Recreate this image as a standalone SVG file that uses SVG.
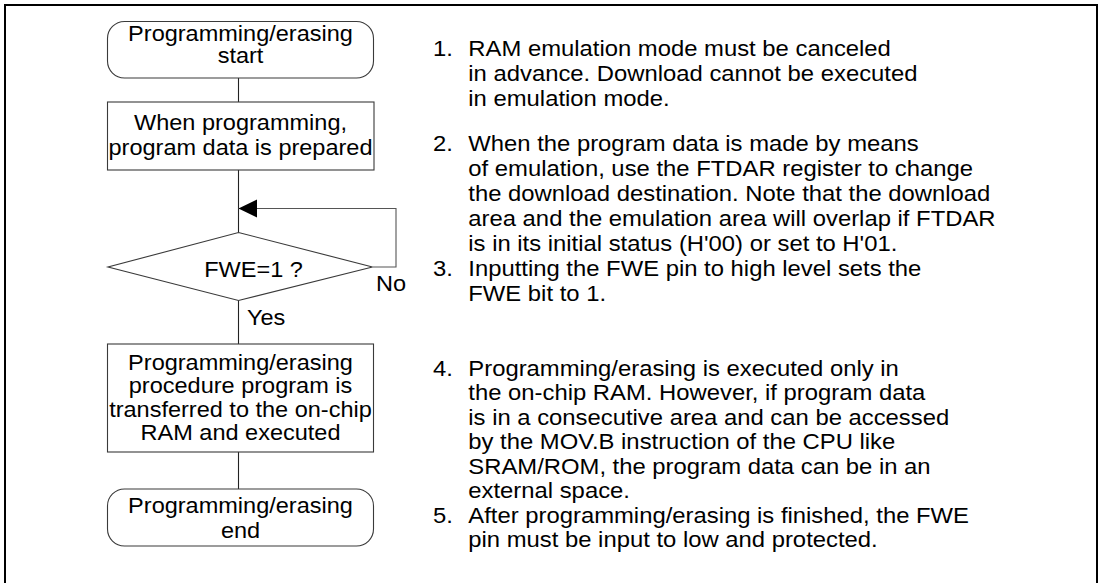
<svg xmlns="http://www.w3.org/2000/svg" width="1102" height="583" viewBox="0 0 1102 583">
<style>
.t{font-family:"Liberation Sans",Arial,sans-serif;font-size:21.2px;fill:#000}
.c{text-anchor:middle}
.shape{fill:#fff;stroke:#3a3a3a;stroke-width:1.1}
.conn{fill:none;stroke:#222;stroke-width:1.1}
.loop{fill:none;stroke:#555;stroke-width:1.1}
</style>
<defs>
<marker id="ah" markerUnits="userSpaceOnUse" markerWidth="20" markerHeight="20" refX="18.5" refY="9" orient="auto">
<path d="M0,0 L18.5,9 L0,18 Z" fill="#000"/>
</marker>
</defs>
<rect width="1102" height="583" fill="#fff"/>
<path d="M5,600 V5 H1097 V600" fill="none" stroke="#000" stroke-width="2"/>

<g id="connectors">
<line class="conn" x1="238.5" y1="78" x2="238.5" y2="102"/>
<line class="conn" x1="238.5" y1="170" x2="238.5" y2="232.5"/>
<line class="conn" x1="238.5" y1="300.5" x2="238.5" y2="344"/>
<line class="conn" x1="238.5" y1="452" x2="238.5" y2="489"/>
<path class="loop" d="M372.5,267 H396 V208.5 H238.5" marker-end="url(#ah)"/>
<text class="t" transform="translate(376 291) scale(1.11 1)">No</text>
<text class="t" transform="translate(247 325) scale(1.11 1)">Yes</text>
</g>

<g id="start">
<rect class="shape" x="107.5" y="21.5" width="266" height="56.5" rx="17" ry="17"/>
<text class="t c" transform="translate(240.5 41) scale(1.11 1)">Programming/erasing</text>
<text class="t c" transform="translate(240.5 63) scale(1.11 1)">start</text>
</g>

<g id="prepare">
<rect class="shape" x="107.5" y="102" width="266.5" height="68"/>
<text class="t c" transform="translate(240.5 130) scale(1.11 1)">When programming,</text>
<text class="t c" transform="translate(240.5 154.5) scale(1.11 1)">program data is prepared</text>
</g>

<g id="decision">
<polygon class="shape" points="238.5,232.5 372.5,267 238.5,300.5 108,267"/>
<text class="t c" transform="translate(253.5 276.5) scale(1.11 1)">FWE=1 ?</text>
</g>

<g id="transfer">
<rect class="shape" x="107.5" y="344" width="266" height="108"/>
<text class="t c" transform="translate(240.5 369.5) scale(1.11 1)">Programming/erasing</text>
<text class="t c" transform="translate(240.5 393) scale(1.11 1)">procedure program is</text>
<text class="t c" transform="translate(240.5 416.5) scale(1.11 1)">transferred to the on-chip</text>
<text class="t c" transform="translate(240.5 440) scale(1.11 1)">RAM and executed</text>
</g>

<g id="end">
<rect class="shape" x="107.5" y="489" width="266" height="57" rx="17" ry="17"/>
<text class="t c" transform="translate(240.5 512.5) scale(1.11 1)">Programming/erasing</text>
<text class="t c" transform="translate(240.5 537.5) scale(1.11 1)">end</text>
</g>

<g id="notes">
<text class="t" transform="translate(433 55.5) scale(1.125 1)">1.</text>
<text class="t" transform="translate(468.3 55.5) scale(1.125 1)">RAM emulation mode must be canceled</text>
<text class="t" transform="translate(468.3 80.5) scale(1.125 1)">in advance. Download cannot be executed</text>
<text class="t" transform="translate(468.3 105.5) scale(1.125 1)">in emulation mode.</text>
<text class="t" transform="translate(433 150.5) scale(1.125 1)">2.</text>
<text class="t" transform="translate(468.3 150.5) scale(1.125 1)">When the program data is made by means</text>
<text class="t" transform="translate(468.3 175.5) scale(1.125 1)">of emulation, use the FTDAR register to change</text>
<text class="t" transform="translate(468.3 200.5) scale(1.125 1)">the download destination. Note that the download</text>
<text class="t" transform="translate(468.3 225.5) scale(1.125 1)">area and the emulation area will overlap if FTDAR</text>
<text class="t" transform="translate(468.3 250.5) scale(1.125 1)">is in its initial status (H'00) or set to H'01.</text>
<text class="t" transform="translate(433 275.5) scale(1.125 1)">3.</text>
<text class="t" transform="translate(468.3 275.5) scale(1.125 1)">Inputting the FWE pin to high level sets the</text>
<text class="t" transform="translate(468.3 300.5) scale(1.125 1)">FWE bit to 1.</text>
<text class="t" transform="translate(433 375.5) scale(1.125 1)">4.</text>
<text class="t" transform="translate(468.3 375.5) scale(1.125 1)">Programming/erasing is executed only in</text>
<text class="t" transform="translate(468.3 400) scale(1.125 1)">the on-chip RAM. However, if program data</text>
<text class="t" transform="translate(468.3 424.5) scale(1.125 1)">is in a consecutive area and can be accessed</text>
<text class="t" transform="translate(468.3 449) scale(1.125 1)">by the MOV.B instruction of the CPU like</text>
<text class="t" transform="translate(468.3 473.5) scale(1.125 1)">SRAM/ROM, the program data can be in an</text>
<text class="t" transform="translate(468.3 498) scale(1.125 1)">external space.</text>
<text class="t" transform="translate(433 522.5) scale(1.125 1)">5.</text>
<text class="t" transform="translate(468.3 522.5) scale(1.125 1)">After programming/erasing is finished, the FWE</text>
<text class="t" transform="translate(468.3 547) scale(1.125 1)">pin must be input to low and protected.</text>
</g>
</svg>
